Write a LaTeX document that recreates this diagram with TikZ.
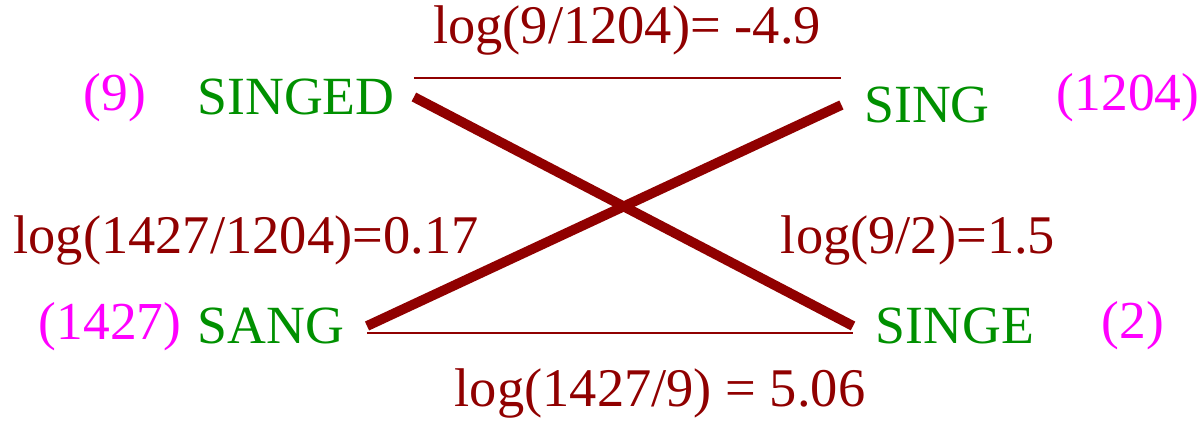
\documentclass[tikz,border=0pt]{standalone}
\usepackage{fontspec}
\setmainfont{Liberation Serif}
\usetikzlibrary{calc}
\definecolor{wordgreen}{HTML}{009000}
\definecolor{logred}{HTML}{900000}
\definecolor{countpink}{HTML}{FF00FF}

\begin{document}
\begin{tikzpicture}[x=0.02cm, y=-0.02cm,
  word/.style={text=wordgreen, font=\fontsize{30.6}{30}\selectfont,
    inner sep=0pt, outer xsep=11pt},
  count/.style={text=countpink, font=\fontsize{30.4}{30}\selectfont, inner sep=0pt},
  score/.style={text=logred, font=\fontsize{31}{30}\selectfont, inner sep=0pt},
  heavy/.style={draw=logred, line width=5.6pt},
  light/.style={draw=logred, line width=1.1pt}
]
  \useasboundingbox (0,0) rectangle (1203,422);
  \node[word] (singed) at (296,97) {SINGED};
  \node[word, outer xsep=13pt] (sing) at (927,105) {SING};
  \node[word, outer xsep=13pt] (sang) at (271,326) {SANG};
  \node[word, outer xsep=13pt] (singe) at (955,326) {SINGE};
  \node[count] (cSinged) at (115,98) {(9)};
  \node[count] (cSing) at (1128,98) {(1204)};
  \node[count] (cSang) at (110,327) {(1427)};
  \node[count] (cSinge) at (1133,326) {(2)};
  \node[score] (sTop) at (627,30) {log(9/1204)= -4.9};
  \node[score] (sLeft) at (246,240) {log(1427/1204)=0.17};
  \node[score] (sRight) at (918,240) {log(9/2)=1.5};
  \node[score] (sBottom) at (660,393) {log(1427/9) = 5.06};
  % crossing links
  \draw[heavy] (singed.east) -- (singe.west);
  \draw[heavy] (sang.east) -- (sing.west);
  % straight links
  \draw[light] ([yshift=11pt]singed.east) -- ([yshift=11pt]singed.east -| sing.west);
  \draw[light] ([yshift=-4pt]sang.east) -- ([yshift=-4pt]sang.east -| singe.west);
\end{tikzpicture}
\end{document}
